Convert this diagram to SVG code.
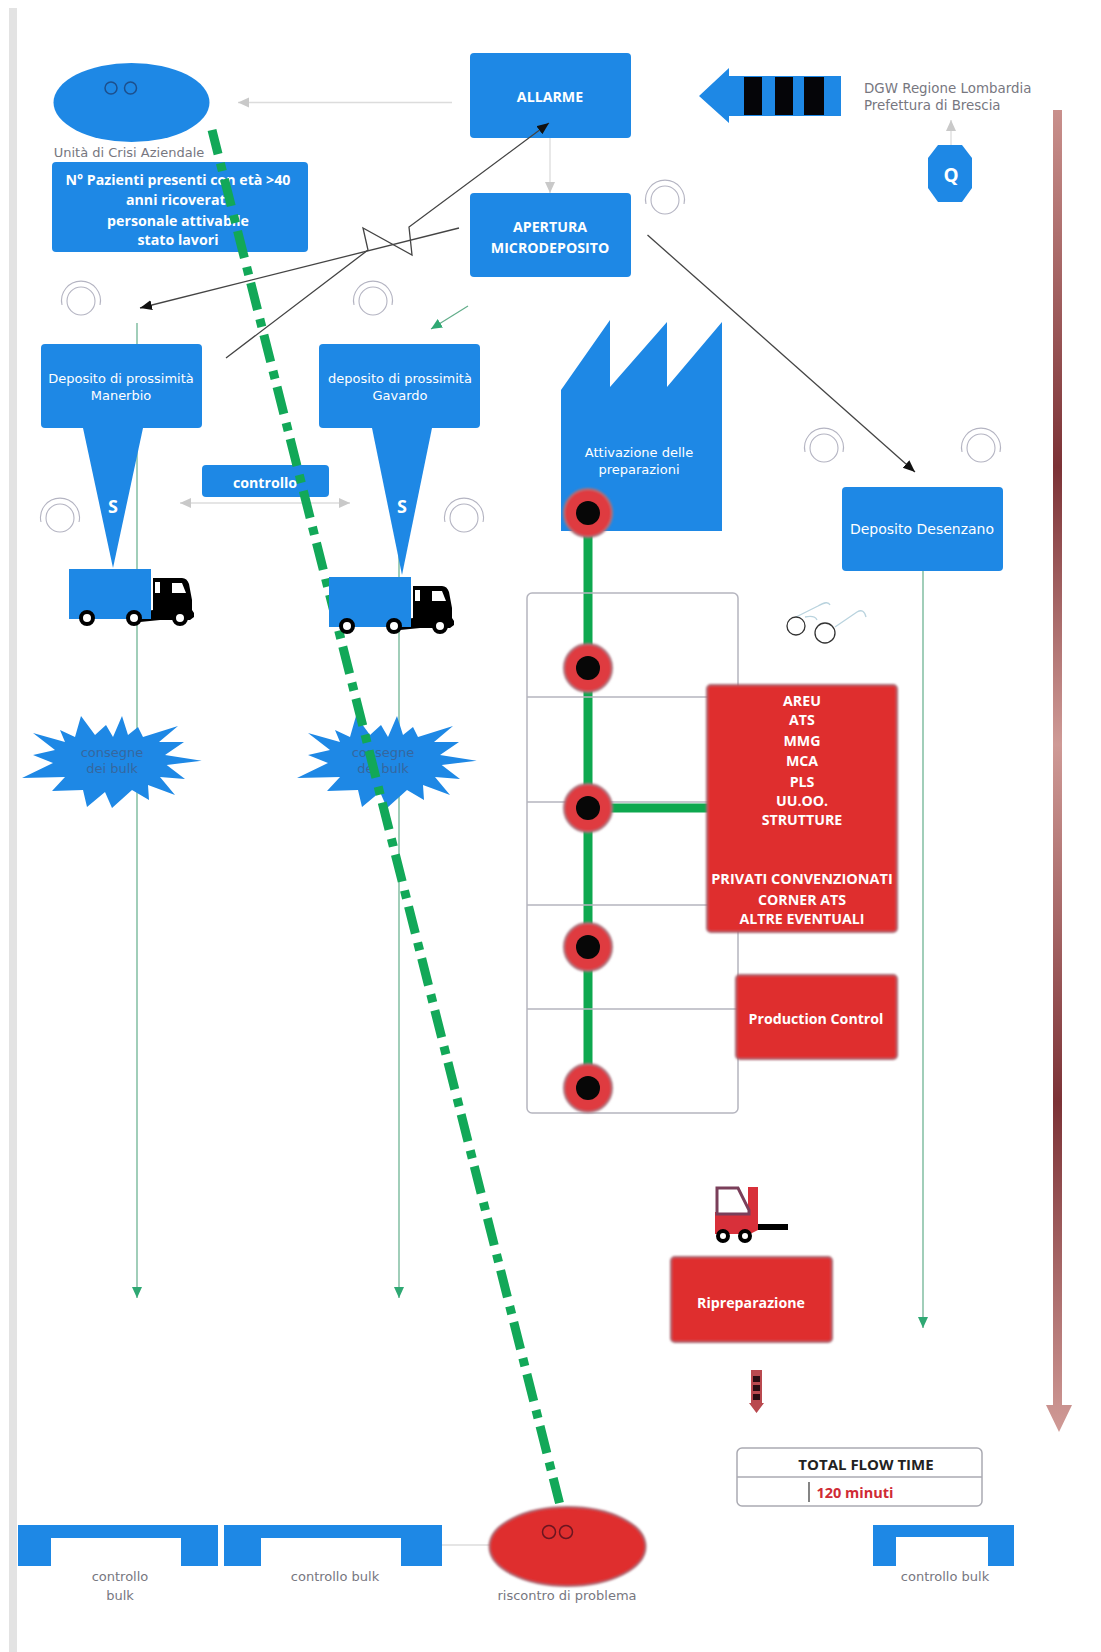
<svg xmlns="http://www.w3.org/2000/svg" width="1101" height="1652" viewBox="0 0 1101 1652">
<style>
text{text-anchor:middle;dominant-baseline:central}
.blue{fill:#1e88e5}
.red{fill:#df2f2f;stroke:#a8626c;stroke-width:2;filter:url(#soft)}
.wb{font:700 14.200px "Open Sans","Liberation Sans",sans-serif;fill:#fff}
.wl{font:400 13px "DejaVu Sans","Liberation Sans",sans-serif;fill:#fff}
.gl{font:400 13px "DejaVu Sans","Liberation Sans",sans-serif;fill:#77777f}
.bt{font:400 13px "DejaVu Sans","Liberation Sans",sans-serif;fill:#35679f}
.sl{font:700 18px "Open Sans","Liberation Sans",sans-serif;fill:#fff}
.ring{fill:none;stroke:#b4b4c2;stroke-width:1.100}
.eye{fill:none;stroke:#1d4f8c;stroke-width:1.500}
.bk{fill:none;stroke:#444;stroke-width:1.300}
.gy{fill:none;stroke:#dcdcdc;stroke-width:1.300}
.gn{fill:none;stroke:#62ad8a;stroke-width:1.200}
.sp{fill:none;stroke:#0ea84f;stroke-width:9}
.dot{fill:#df3a40;stroke:#a8727c;stroke-width:2;filter:url(#soft)}
.wheel{fill:#fff;stroke:#000;stroke-width:4}
</style>
<defs>
<filter id="soft" x="-10%" y="-10%" width="120%" height="120%"><feGaussianBlur stdDeviation="0.800"/></filter>
<linearGradient id="grad" gradientUnits="userSpaceOnUse" x1="0" y1="110" x2="0" y2="1432">
<stop offset="0" stop-color="#c9908c"/><stop offset=".27" stop-color="#7c3236"/><stop offset=".48" stop-color="#cf9a96"/><stop offset=".75" stop-color="#7c3236"/><stop offset="1" stop-color="#d09a96"/>
</linearGradient>
<marker id="aK" markerUnits="userSpaceOnUse" markerWidth="14" markerHeight="12" refX="12" refY="5" orient="auto"><path d="M0 0L12 5L0 10Z" fill="#111"/></marker>
<marker id="aG" markerUnits="userSpaceOnUse" markerWidth="14" markerHeight="12" refX="11" refY="5" orient="auto"><path d="M0 0L11 5L0 10Z" fill="#c9c9c9"/></marker>
<marker id="aGs" markerUnits="userSpaceOnUse" markerWidth="14" markerHeight="12" refX="0" refY="5" orient="auto"><path d="M11 0L0 5L11 10Z" fill="#c9c9c9"/></marker>
<marker id="aN" markerUnits="userSpaceOnUse" markerWidth="14" markerHeight="12" refX="11" refY="5" orient="auto"><path d="M0 0L11 5L0 10Z" fill="#2fa873"/></marker>
<g id="ringShape"><circle cx="0" cy="3" r="14" class="ring"/><path d="M-19 7A19.500 19.500 0 1 1 19 7" class="ring"/></g>
<polygon id="burst" class="blue" points="201.700,760.700 166.700,765 185,779 160,777 175,795 148,785 149,800 132,790 112,808 105,792 87,807 83,790 52,791 65,777 22,778 53,763 33,755 55,750 33,733 65,742 60,730 75,737 81,716 95,735 106,725 113,737 122,716 128,735 138,727 143,737 178,726 159,742 184,742 165,755"/>
<g id="truckShape">
<path d="M153 578H182Q187 578 189 584L192 600V610L194 613V617L190 620H160L140 622V612L153 610Z" fill="#000"/>
<rect x="155" y="582" width="5" height="11" fill="#fff"/>
<path d="M172 583H182L186 593H172Z" fill="#fff"/>
<rect x="69" y="569" width="82" height="50" class="blue"/>
<circle cx="87" cy="618" r="6" class="wheel"/>
<circle cx="134" cy="618" r="6" class="wheel"/>
<circle cx="180" cy="618" r="6" class="wheel"/>
</g>
<g id="dotShape"><circle r="24" class="dot"/><circle r="12" fill="#070707"/></g>
</defs>

<rect id="left-bar" x="9" y="8" width="8" height="1644" fill="#e3e3e3"/>

<g id="connectors">
<line x1="452" y1="102.500" x2="238" y2="102.500" class="gy" marker-end="url(#aG)"/>
<line x1="550" y1="138" x2="550" y2="193" class="gy" marker-end="url(#aG)"/>
<line x1="951" y1="145" x2="951" y2="120" class="gy" marker-end="url(#aG)"/>
<line x1="180" y1="503" x2="350" y2="503" class="gy" marker-start="url(#aGs)" marker-end="url(#aG)"/>
<line x1="442" y1="1545" x2="490" y2="1545" class="gy"/>
<line x1="468" y1="306" x2="431" y2="329" class="gn" marker-end="url(#aN)"/>
<line x1="137" y1="323" x2="137" y2="1298" class="gn" marker-end="url(#aN)"/>
<line x1="399" y1="430" x2="399" y2="1298" class="gn" marker-end="url(#aN)"/>
<line x1="923" y1="571" x2="923" y2="1328" class="gn" marker-end="url(#aN)"/>
<path d="M588 513V1088M588 808H708" class="sp"/>
</g>

<g id="node-crisi"><ellipse cx="131.500" cy="102.500" rx="78" ry="39.500" class="blue"/><circle cx="111" cy="88" r="6" class="eye"/><circle cx="130.500" cy="88" r="6" class="eye"/><text x="129" y="152" class="gl">Unità di Crisi Aziendale</text></g>
<g id="node-pazienti"><rect x="52" y="162" width="256" height="90" rx="4" class="blue"/><text x="178" y="179" class="wb">N° Pazienti presenti con età &gt;40</text><text x="178" y="199" class="wb">anni ricoverati</text><text x="178" y="220" class="wb">personale attivabile</text><text x="178" y="239" class="wb">stato lavori</text></g>
<g id="node-allarme"><rect x="470" y="53" width="161" height="85" rx="4" class="blue"/><text x="550" y="96" class="wb">ALLARME</text></g>
<g id="node-apertura"><rect x="470" y="193" width="161" height="84" rx="4" class="blue"/><text x="550" y="226" class="wb">APERTURA</text><text x="550" y="247" class="wb">MICRODEPOSITO</text></g>
<g id="node-dgw"><path d="M699 96L729 68V76H841V116H729V123Z" class="blue"/><rect x="744" y="77" width="18" height="38" fill="#050508"/><rect x="775" y="77" width="18" height="38" fill="#050508"/><rect x="804" y="77" width="20" height="38" fill="#050508"/></g>
<g id="node-dgw-label"><text x="864" y="88" class="gl" style="text-anchor:start;font-size:13.400px">DGW Regione Lombardia</text><text x="864" y="105" class="gl" style="text-anchor:start;font-size:13.400px">Prefettura di Brescia</text></g>
<g id="node-q"><polygon points="938,145 962,145 972,158 972,188 962,202 938,202 928,188 928,158" class="blue"/><text x="951" y="175" class="sl" style="font-size:19px">Q</text></g>
<g id="rings"><use href="#ringShape" x="81" y="298"/><use href="#ringShape" x="373" y="298"/><use href="#ringShape" x="665" y="197"/><use href="#ringShape" x="60" y="515"/><use href="#ringShape" x="464" y="515"/><use href="#ringShape" x="824" y="445"/><use href="#ringShape" x="981" y="445"/></g>

<g id="node-manerbio"><polygon points="83,428 143,428 113,568" class="blue"/><rect x="41" y="344" width="161" height="84" rx="4" class="blue"/><text x="121" y="378" class="wl">Deposito di prossimità</text><text x="121" y="395" class="wl">Manerbio</text><text x="113" y="506" class="sl">S</text></g>
<g id="node-gavardo"><polygon points="372,428 432,428 402,575" class="blue"/><rect x="319" y="344" width="161" height="84" rx="4" class="blue"/><text x="400" y="378" class="wl">deposito di prossimità</text><text x="400" y="395" class="wl">Gavardo</text><text x="402" y="506" class="sl">S</text></g>
<g id="node-controllo"><rect x="202" y="465" width="127" height="32" rx="4" class="blue"/><text x="265" y="482" class="wb">controllo</text></g>
<g id="node-burst1"><use href="#burst"/><text x="112" y="752" class="bt">consegne</text><text x="112" y="768" class="bt">dei bulk</text></g>
<g id="node-burst2"><use href="#burst" x="275"/><text x="383" y="752" class="bt">consegne</text><text x="383" y="768" class="bt">dei bulk</text></g>

<g id="node-factory"><polygon points="561,390 610,320 610,387 667,322 667,387 722,322 722,531 561,531" class="blue"/><text x="639" y="452" class="wl">Attivazione delle</text><text x="639" y="469" class="wl">preparazioni</text></g>
<g id="node-table" fill="none" stroke="#b5b5bf" stroke-width="1.500"><rect x="527" y="593" width="211" height="520" rx="5"/><path d="M527 697H738M527 802H738M527 905H738M527 1009H738"/></g>
<g id="node-dots"><use href="#dotShape" x="588" y="513"/><use href="#dotShape" x="588" y="668"/><use href="#dotShape" x="588" y="808"/><use href="#dotShape" x="588" y="947"/><use href="#dotShape" x="588" y="1088"/></g>
<g id="node-desenzano"><rect x="842" y="487" width="161" height="84" rx="4" class="blue"/><text x="922" y="529" class="wl" style="font-size:14px">Deposito Desenzano</text></g>
<g id="node-glasses"><path d="M796 617L818 606Q828 600 830 605M835 627L857 612Q864 608 866 617M805 617Q815 615 817 620" fill="none" stroke="#b9d3de" stroke-width="1.300"/><circle cx="796" cy="626" r="9" fill="none" stroke="#333" stroke-width="1.300"/><circle cx="825" cy="633" r="10" fill="none" stroke="#333" stroke-width="1.300"/></g>
<g id="node-attori"><rect x="707" y="685" width="190" height="247" rx="4" class="red"/><text x="802" y="700" class="wb">AREU</text><text x="802" y="719" class="wb">ATS</text><text x="802" y="740" class="wb">MMG</text><text x="802" y="760" class="wb">MCA</text><text x="802" y="781" class="wb">PLS</text><text x="802" y="800" class="wb">UU.OO.</text><text x="802" y="819" class="wb">STRUTTURE</text><text x="802" y="878" class="wb" style="font-size:14.500px">PRIVATI CONVENZIONATI</text><text x="802" y="899" class="wb">CORNER ATS</text><text x="802" y="918" class="wb">ALTRE EVENTUALI</text></g>
<g id="node-production"><rect x="736" y="975" width="161" height="84" rx="4" class="red"/><text x="816" y="1018" class="wb">Production Control</text></g>
<g id="node-forklift"><path d="M715 1212H748V1187H758V1224H788V1230H758L750 1234H715Z" fill="#d8303a"/><path d="M717 1188H738L749 1210V1214H717Z" fill="#fff" stroke="#7a3f5a" stroke-width="3"/><rect x="758" y="1224" width="30" height="6" fill="#000"/><circle cx="723" cy="1236" r="5" class="wheel"/><circle cx="745" cy="1236" r="5" class="wheel"/></g>
<g id="node-ripreparazione"><rect x="671" y="1257" width="161" height="85" rx="4" class="red"/><text x="751" y="1302" class="wb">Ripreparazione</text></g>
<g id="node-kanban"><path d="M751 1370H762V1403H764L756.500 1413L749 1403H751Z" fill="#b9494f"/><rect x="753" y="1376" width="7" height="6" fill="#2a0c12"/><rect x="753" y="1385" width="7" height="6" fill="#2a0c12"/><rect x="753" y="1394" width="7" height="6" fill="#2a0c12"/></g>
<g id="node-time"><rect x="737" y="1448" width="245" height="58" rx="5" fill="#fff" stroke="#aaaab2" stroke-width="1.500"/><line x1="737" y1="1477" x2="982" y2="1477" stroke="#aaaab2" stroke-width="1.500"/><text x="866" y="1464" style="font:700 15px 'Open Sans','Liberation Sans',sans-serif;fill:#222">TOTAL FLOW TIME</text><line x1="809" y1="1482" x2="809" y2="1502" stroke="#333" stroke-width="1.200"/><text x="855" y="1492" style="font:700 14.500px 'Open Sans','Liberation Sans',sans-serif;fill:#cf2b35">120 minuti</text></g>
<g id="node-time-arrow"><path d="M1053 110H1062V1405H1072L1059 1432L1046 1405H1053Z" fill="url(#grad)"/></g>

<g id="node-bulk1"><path d="M18 1525H218V1566H181V1538H51V1566H18Z" class="blue"/><text x="120" y="1576" class="gl">controllo</text><text x="120" y="1595" class="gl">bulk</text></g>
<g id="node-bulk2"><path d="M224 1525H442V1566H401V1538H261V1566H224Z" class="blue"/><text x="335" y="1576" class="gl">controllo bulk</text></g>
<g id="node-bulk3"><path d="M873 1525H1014V1566H988V1537H896V1566H873Z" class="blue"/><text x="945" y="1576" class="gl">controllo bulk</text></g>
<g id="node-problema"><ellipse cx="567.500" cy="1546.500" rx="78" ry="39.500" class="red"/><circle cx="549" cy="1532" r="6.500" fill="none" stroke="#6b1520" stroke-width="1.500"/><circle cx="566" cy="1532" r="6.500" fill="none" stroke="#6b1520" stroke-width="1.500"/><text x="567" y="1595" class="gl">riscontro di problema</text></g>

<g id="connector-overlay">
<line x1="212" y1="130" x2="559.500" y2="1503" stroke="#12a858" stroke-width="9" stroke-dasharray="27.800 9.300 8.200 8.300" stroke-dashoffset="3"/>
<line x1="459" y1="228" x2="140" y2="308" class="bk" marker-end="url(#aK)"/>
<path d="M226 358L368 250L363 228L412 255L409 227L549 123" class="bk" marker-end="url(#aK)"/>
<line x1="647.500" y1="235" x2="915" y2="472" class="bk" marker-end="url(#aK)"/>
</g>
<g id="node-truck1"><use href="#truckShape"/></g>
<g id="node-truck2"><use href="#truckShape" x="260" y="8"/></g>
</svg>
